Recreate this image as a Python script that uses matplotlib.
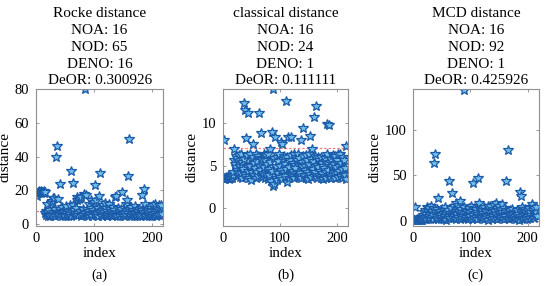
import matplotlib
matplotlib.use("Agg")
import matplotlib.pyplot as plt
import numpy as np

plt.rcParams['font.family'] = ['Liberation Serif', 'DejaVu Serif']

titles = ["Rocke distance", "classical distance", "MCD distance"]
noa = [16, 16, 16]
nod = [65, 24, 92]
deno = [16, 1, 1]
deor = ["0.300926", "0.111111", "0.425926"]
panel_labels = ["(a)", "(b)", "(c)"]
thresholds = [7.8, 7.1, 6.0]

rocke = [
    16.5, 18.2, 19.0, 18.6, 19.4, 18.8, 19.1, 18.4, 19.6, 18.9, 19.2, 18.7,
    19.5, 18.5, 19.0, 6.2, 5.1, 7.4, 11.8, 4.6, 6.8, 5.5, 8.2, 4.9,
    12.3, 6.1, 5.3, 13.8, 7.0, 15.2, 15.3, 4.8, 9.1, 39.6, 6.5, 46.5,
    5.6, 14.8, 7.2, 5.0, 8.6, 23.5, 6.3, 4.7, 9.8, 5.9, 7.6, 5.2,
    6.9, 4.4, 8.1, 10.7, 5.7, 6.6, 4.9, 7.8, 5.4, 11.0, 6.0, 31.4,
    4.6, 7.3, 11.2, 24.0, 5.8, 8.4, 6.7, 5.1, 9.5, 13.9, 16.0, 6.4,
    5.3, 14.7, 15.1, 7.7, 4.8, 16.2, 6.1, 9.0, 5.5, 7.1, 17.6, 80.0,
    6.3, 17.0, 5.0, 8.8, 4.5, 6.9, 7.5, 12.0, 5.6, 9.2, 14.1, 6.2,
    4.7, 8.0, 5.9, 13.2, 7.3, 23.0, 14.0, 5.2, 6.6, 9.7, 4.9, 7.9,
    16.5, 30.0, 5.4, 6.8, 8.3, 4.6, 11.0, 5.8, 7.0, 12.4, 6.1, 5.0,
    9.3, 4.8, 7.6, 5.5, 6.4, 11.8, 8.7, 5.1, 6.9, 4.4, 7.4, 10.2,
    5.7, 6.3, 8.5, 16.0, 5.0, 16.5, 7.2, 4.7, 9.6, 6.0, 5.3, 7.8,
    4.9, 6.7, 8.9, 18.8, 5.6, 7.1, 4.5, 9.4, 6.2, 5.4, 12.0, 8.0,
    14.0, 6.5, 28.4, 50.4, 5.1, 7.7, 4.8, 9.9, 6.3, 5.7, 8.2, 4.6,
    7.0, 10.7, 5.9, 6.6, 8.6, 4.9, 7.4, 5.3, 9.1, 6.0, 4.7, 7.9,
    5.5, 8.4, 17.0, 6.8, 20.6, 5.0, 12.0, 7.2, 4.6, 9.0, 6.1, 5.8,
    8.0, 4.8, 6.9, 5.2, 9.7, 7.5, 4.5, 6.4, 10.9, 5.6, 8.3, 12.0,
    6.7, 4.9, 7.7, 5.4, 9.2, 6.2, 11.3, 5.0, 8.8, 6.5, 11.0, 5.7,
]

classical = [
    8.0, 3.5, 3.6, 3.4, 3.7, 3.5, 3.6, 3.8, 3.5, 3.4, 3.7, 3.6,
    3.5, 3.7, 3.6, 3.8, 3.9, 4.2, 6.9, 5.6, 5.2, 4.8, 6.1, 4.5,
    5.9, 3.9, 4.3, 6.2, 5.0, 3.7, 6.4, 4.1, 5.4, 3.6, 4.6, 12.3,
    5.8, 4.0, 11.5, 8.25, 3.8, 6.2, 11.1, 4.4, 5.1, 3.5, 6.3, 4.9,
    3.3, 5.7, 4.2, 6.0, 7.5, 3.9, 5.3, 4.7, 6.4, 3.6, 5.5, 4.3,
    6.1, 3.8, 11.1, 5.0, 4.5, 8.8, 5.9, 3.7, 5.8, 4.1, 6.3, 4.8,
    3.5, 5.6, 6.2, 4.0, 5.2, 3.4, 6.4, 4.6, 3.9, 6.9, 5.4, 3.2,
    4.4, 8.9, 2.6, 14.0, 2.9, 5.9, 8.3, 3.6, 4.9, 6.0, 3.3, 5.5,
    4.1, 6.3, 3.7, 5.0, 7.7, 4.5, 3.4, 7.5, 5.8, 4.2, 6.1, 3.8,
    5.2, 4.6, 12.5, 3.1, 6.0, 8.3, 4.8, 3.5, 5.7, 4.0, 8.3, 6.2,
    3.9, 5.3, 4.4, 6.4, 3.6, 5.1, 4.7, 6.0, 3.8, 5.6, 4.3, 6.3,
    3.7, 5.9, 4.1, 8.0, 3.5, 5.4, 4.9, 9.4, 6.1, 3.9, 5.0, 4.5,
    6.2, 3.6, 5.7, 4.2, 3.4, 5.2, 6.4, 8.5, 4.0, 5.8, 3.7, 6.9,
    4.6, 5.5, 3.8, 10.7, 6.1, 4.3, 11.9, 5.1, 3.5, 6.0, 4.8, 5.6,
    3.9, 4.4, 6.0, 3.6, 5.3, 4.1, 3.4, 5.0, 4.7, 3.8, 5.9, 4.2,
    3.5, 6.3, 9.8, 4.5, 3.7, 9.7, 5.4, 4.0, 3.6, 5.8, 4.9, 6.2,
    3.9, 5.2, 4.3, 6.1, 3.5, 4.8, 5.6, 4.1, 6.4, 3.7, 5.0, 4.4,
    6.3, 3.8, 5.3, 4.6, 3.6, 6.0, 4.0, 5.7, 3.9, 4.7, 3.4, 7.3,
]

mcd = [
    1.2, 0.8, 15.6, 1.5, 0.5, 1.9, 1.0, 2.2, 0.7, 1.4, 1.8, 0.6,
    1.3, 2.0, 0.9, 3.5, 6.2, 2.1, 9.8, 4.4, 12.5, 1.8, 7.3, 15.2,
    3.0, 10.6, 5.5, 13.8, 2.4, 8.1, 16.0, 4.7, 11.2, 1.9, 6.8, 14.4,
    63.2, 73.3, 3.3, 9.5, 5.1, 12.8, 2.6, 25.3, 7.7, 4.2, 10.4, 1.7,
    6.0, 13.1, 3.8, 8.9, 2.2, 11.6, 5.4, 15.3, 1.5, 7.1, 9.7, 3.6,
    12.2, 4.9, 44.0, 8.3, 2.8, 14.6, 30.7, 6.4, 10.1, 3.1, 16.8, 5.6,
    9.2, 19.3, 2.5, 12.9, 7.4, 17.5, 4.0, 11.0, 1.8, 21.6, 6.7, 13.5,
    3.4, 9.9, 5.2, 144.4, 15.1, 2.7, 8.6, 12.0, 4.6, 10.8, 1.6, 7.0,
    13.9, 3.9, 9.3, 5.8, 16.4, 2.3, 11.4, 42.2, 6.1, 14.0, 3.2, 8.8,
    12.6, 4.5, 10.2, 1.9, 47.0, 7.6, 19.9, 5.0, 13.3, 2.9, 9.0, 11.7,
    4.1, 8.2, 14.8, 2.0, 6.9, 12.1, 3.7, 10.5, 5.3, 15.9, 1.4, 7.9,
    11.3, 4.3, 16.6, 6.5, 9.6, 2.6, 13.6, 5.7, 17.9, 3.5, 10.9, 19.5,
    7.2, 14.2, 2.1, 11.8, 5.9, 16.1, 3.0, 8.7, 12.7, 4.8, 10.0, 18.4,
    6.3, 14.5, 2.4, 9.4, 5.1, 44.4, 12.4, 3.3, 77.6, 7.5, 10.7, 1.7,
    6.6, 11.9, 3.9, 8.4, 13.0, 2.7, 7.8, 10.3, 4.4, 5.5, 9.1, 2.3,
    6.2, 12.3, 3.6, 8.0, 1.5, 31.4, 5.2, 10.6, 27.0, 15.6, 3.1, 7.3,
    11.1, 2.5, 6.8, 13.4, 4.0, 9.8, 1.8, 12.2, 5.6, 8.5, 14.1, 3.4,
    10.0, 6.1, 15.0, 18.4, 4.7, 11.5, 2.9, 13.7, 7.0, 9.3, 14.9, 5.8,
]

series = [rocke, classical, mcd]
ylims = [(-1, 80.5), (-2, 14), (-5, 145.5)]
yticks = [[0, 20, 40, 60, 80], [0, 5, 10], [0, 50, 100]]
xticks = [0, 100, 200]

W, H = 545, 286
fig = plt.figure(figsize=(W / 100, H / 100), dpi=100)
lefts = [36, 223, 413.3]
right_edges = [163.3, 348, 538.5]
top_px, bot_px = 88.5, 225.5

fs = 10.5
for i in range(3):
    l = lefts[i] / W
    w = (right_edges[i] - lefts[i]) / W
    b = (H - bot_px) / H
    h = (bot_px - top_px) / H
    ax = fig.add_axes([l, b, w, h])
    y = np.array(series[i])
    x = np.arange(1, len(y) + 1)
    ax.axhline(thresholds[i], color='#f08080', lw=0.9, ls=(0, (2, 1.5)), zorder=1)
    ax.plot(x, y, linestyle='none', marker='*', ms=7.5,
            markerfacecolor='#6fbdea', markeredgecolor='#1a5aa8',
            markeredgewidth=0.9, zorder=2)
    ax.set_xlim(0, 219)
    ax.set_ylim(*ylims[i])
    ax.set_xticks(xticks)
    ax.set_yticks(yticks[i])
    ax.tick_params(direction='in', top=True, right=True, length=2.5,
                   width=0.6, color='#888888', labelsize=fs, pad=5)
    for s in ax.spines.values():
        s.set_color('#909090')
        s.set_linewidth(0.8)
    ax.set_xlabel('index', fontsize=fs + 0.5, labelpad=1)
    ax.set_ylabel('distance', fontsize=fs + 0.5, labelpad=2)
    ttl = (f"{titles[i]}\nNOA: {noa[i]}\nNOD: {nod[i]}\n"
           f"DENO: {deno[i]}\nDeOR: {deor[i]}")
    ax.set_title(ttl, fontsize=fs + 0.5, linespacing=1.38, pad=3)
    fig.text(l + w / 2, (H - 275) / H, panel_labels[i], ha='center',
             va='center', fontsize=fs)

fig.savefig('out.png', dpi=100)
